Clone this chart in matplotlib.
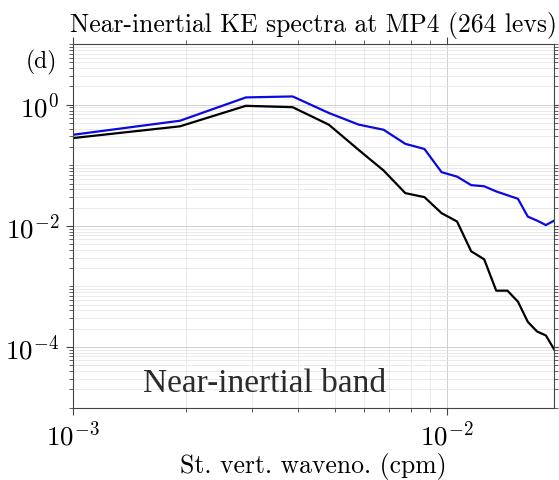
import matplotlib
matplotlib.use('Agg')
import matplotlib.pyplot as plt
import numpy as np
from matplotlib.ticker import LogLocator, NullFormatter, FuncFormatter, FixedLocator

plt.rcParams['mathtext.fontset'] = 'cm'

# vertical wavenumber (cpm)
wavenum = [0.000966, 0.001932, 0.002898, 0.003864, 0.00483, 0.005796, 0.006762,
           0.007728, 0.008694, 0.00966, 0.010626, 0.011592, 0.012558, 0.013524,
           0.01449, 0.015456, 0.016422, 0.017388, 0.018354, 0.01932]

# spectra
ke_blue = [0.31, 0.544, 1.32, 1.37, 0.73, 0.47, 0.386, 0.226, 0.186, 0.077,
           0.065, 0.047, 0.045, 0.037, 0.032, 0.028, 0.0142, 0.0122, 0.0103, 0.0122]
ke_black = [0.275, 0.44, 0.96, 0.91, 0.467, 0.18, 0.082, 0.0347, 0.0298, 0.0162,
            0.0118, 0.0038, 0.0028, 0.00085, 0.00085, 0.00056, 0.00026, 0.00018,
            0.000155, 9.1e-5]

# labelled ticks
xticks = [1e-3, 1e-2]
yticks = [1e-4, 1e-2, 1e0]

fig = plt.figure(figsize=(5.59, 4.8), dpi=100)
ax = fig.add_axes([0.1306, 0.151, 0.8605, 0.757])

ax.loglog(wavenum, ke_blue, color='#0a0ae0', lw=1.6)
ax.loglog(wavenum, ke_black, color='black', lw=1.6)

ax.set_xlim(1e-3, 0.0193)
ax.set_ylim(1e-5, 10)

pow_fmt = FuncFormatter(lambda v, pos: r'$10^{%d}$' % round(np.log10(v)))
ax.yaxis.set_major_locator(FixedLocator(yticks))
ax.yaxis.set_minor_locator(LogLocator(base=10, subs=np.arange(1, 10), numticks=30))
ax.yaxis.set_major_formatter(pow_fmt)
ax.yaxis.set_minor_formatter(NullFormatter())
ax.xaxis.set_major_locator(FixedLocator(xticks))
ax.xaxis.set_minor_locator(LogLocator(base=10, subs=np.arange(2, 10), numticks=30))
ax.xaxis.set_major_formatter(pow_fmt)
ax.xaxis.set_minor_formatter(NullFormatter())

ax.grid(which='major', color='#cfcfcf', lw=0.7)
ax.grid(which='minor', color='#e6e6e6', lw=0.6)
ax.set_axisbelow(True)

ax.tick_params(which='both', direction='out', top=True, right=True, color='#444444')
ax.tick_params(which='major', length=5, width=0.8, labelsize=19.5, pad=5)
ax.tick_params(which='minor', length=3, width=0.6)
for sp in ax.spines.values():
    sp.set_color('#444444')
    sp.set_linewidth(0.8)

ax.set_title('Near-inertial KE spectra at MP4 (264 levs)', fontfamily='cmr10',
             fontsize=18.5, pad=9)
ax.set_xlabel('St. vert. waveno. (cpm)', fontfamily='cmr10', fontsize=18.5, labelpad=1)

fig.text(0.075, 0.869, '(d)', fontfamily='cmr10', fontsize=17, ha='center', va='center')
ax.text(0.146, 0.042, 'Near-inertial band', transform=ax.transAxes, fontfamily='Liberation Serif',
        fontsize=24, color='#2b2b2b', va='baseline')

fig.savefig('out.png', dpi=100)
